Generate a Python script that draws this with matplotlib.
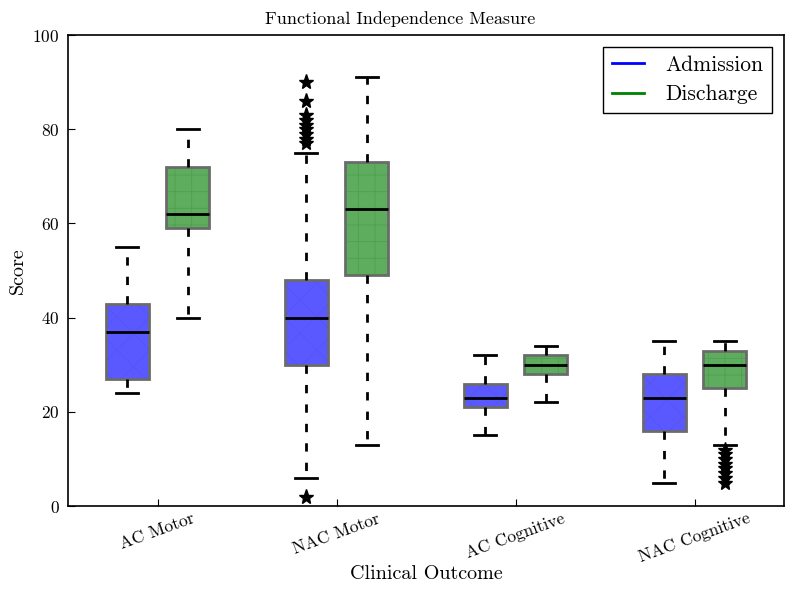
import matplotlib
matplotlib.use("Agg")
import matplotlib.pyplot as plt
from matplotlib.patches import PathPatch
from matplotlib.lines import Line2D

plt.rcParams['font.family'] = ['cmr10', 'DejaVu Serif']
plt.rcParams['axes.formatter.use_mathtext'] = True
plt.rcParams['hatch.linewidth'] = 0.6

# 数据：每组的五数概括和离群点
outcomes = ["AC Motor", "NAC Motor", "AC Cognitive", "NAC Cognitive"]
adm_low = [24, 6, 15, 5]
adm_q1 = [27, 30, 21, 16]
adm_med = [37, 40, 23, 23]
adm_q3 = [43, 48, 26, 28]
adm_high = [55, 75, 32, 35]
adm_fliers = [[], [2, 77, 78, 79, 80, 81, 82, 83, 86, 90], [], []]

dis_low = [40, 13, 22, 13]
dis_q1 = [59, 49, 28, 25]
dis_med = [62, 63, 30, 30]
dis_q3 = [72, 73, 32, 33]
dis_high = [80, 91, 34, 35]
dis_fliers = [[], [], [], [5, 6, 7, 8, 9, 10, 11, 12]]


def make_stats(low, q1, med, q3, high, fliers):
    stats = []
    for i in range(len(low)):
        stats.append({"whislo": low[i], "q1": q1[i], "med": med[i], "q3": q3[i],
                      "whishi": high[i], "fliers": fliers[i]})
    return stats


fig = plt.figure(figsize=(8, 5.94), dpi=100)
ax = fig.add_axes([0.085, 0.148, 0.895, 0.793])

pos = [1, 2, 3, 4]
off = 0.17

common = dict(widths=0.24, patch_artist=True, showfliers=True,
              whiskerprops=dict(color="black", linestyle="--", linewidth=2, dashes=(3, 4)),
              capprops=dict(color="black", linewidth=2),
              medianprops=dict(color="black", linewidth=2),
              flierprops=dict(marker="*", markerfacecolor="black", markeredgecolor="black",
                              markersize=11, linestyle="none"))

b1 = ax.bxp(make_stats(adm_low, adm_q1, adm_med, adm_q3, adm_high, adm_fliers),
            positions=[p - off for p in pos], **common)
b2 = ax.bxp(make_stats(dis_low, dis_q1, dis_med, dis_q3, dis_high, dis_fliers),
            positions=[p + off for p in pos], **common)

# 填充颜色和花纹
for box in b1["boxes"]:
    box.set_facecolor((0.35, 0.35, 1.0))
    box.set_edgecolor("#6b6b6b")
    box.set_linewidth(2)
    ax.add_patch(PathPatch(box.get_path(), facecolor="none", edgecolor=(0.3, 0.3, 0.85, 0.3),
                           hatch="x", linewidth=0, zorder=box.get_zorder()))
for box in b2["boxes"]:
    box.set_facecolor((0.37, 0.68, 0.37))
    box.set_edgecolor("#6b6b6b")
    box.set_linewidth(2)
    ax.add_patch(PathPatch(box.get_path(), facecolor="none", edgecolor=(0.25, 0.55, 0.25, 0.45),
                           hatch="+", linewidth=0, zorder=box.get_zorder()))

ax.set_xlim(0.5, 4.5)
ax.set_ylim(0, 100)
ax.set_xticks(pos)
ax.set_xticklabels(outcomes, rotation=20, fontsize=12.5)
ax.set_yticks([0, 20, 40, 60, 80, 100])
ax.tick_params(axis="both", direction="in", length=5, labelsize=12.5, top=False, right=False)
ax.tick_params(axis="y", pad=6)
for s in ax.spines.values():
    s.set_linewidth(1.2)

ax.set_title("Functional Independence Measure", fontsize=13, x=0.4637, pad=8)
ax.set_xlabel("Clinical Outcome", fontsize=14.5, labelpad=0)
ax.set_ylabel("Score", fontsize=14.5)

handles = [Line2D([], [], color="blue", linewidth=2), Line2D([], [], color="green", linewidth=2)]
leg = ax.legend(handles, ["Admission", "Discharge"], loc="upper right", fontsize=15.5,
                fancybox=False, edgecolor="black", framealpha=1, borderaxespad=0.55,
                handlelength=1.5, handletextpad=1.0, borderpad=0.4, labelspacing=0.45)
leg.get_frame().set_linewidth(1)

fig.savefig("out.png", dpi=100)
